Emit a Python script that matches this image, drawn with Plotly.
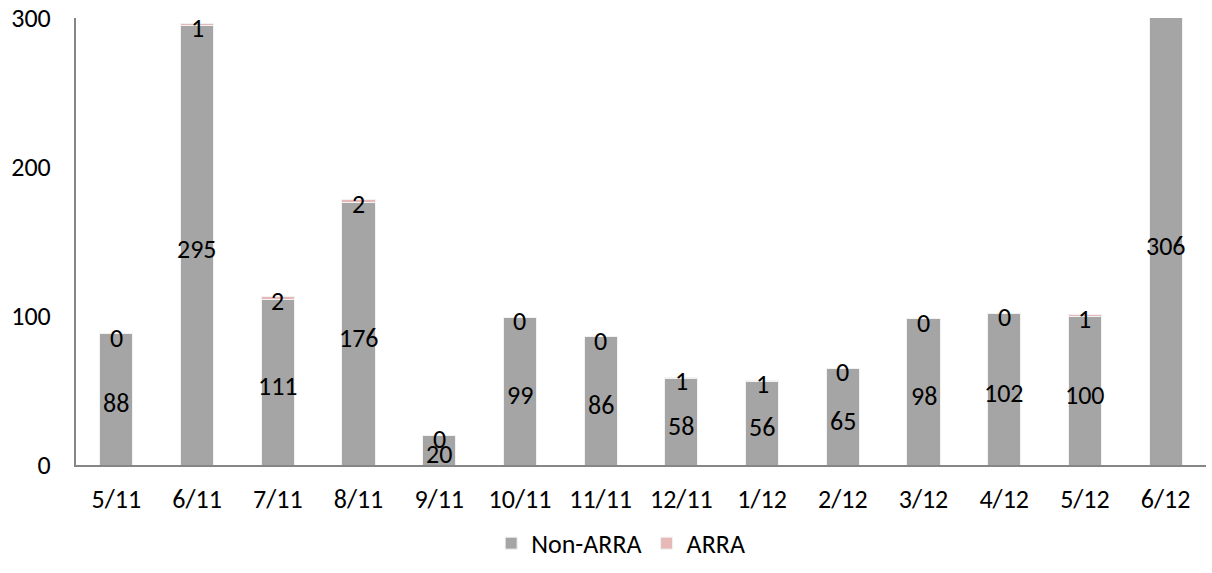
import plotly.graph_objects as go

months = ["5/11", "6/11", "7/11", "8/11", "9/11", "10/11", "11/11",
          "12/11", "1/12", "2/12", "3/12", "4/12", "5/12", "6/12"]
non_arra = [88, 295, 111, 176, 20, 99, 86, 58, 56, 65, 98, 102, 100, 306]
arra = [0, 1, 2, 2, 0, 0, 0, 1, 1, 0, 0, 0, 1, 0]
y_max = 300

font_family = "Carlito, Lato, sans-serif"
fsize = 26
label_font = dict(color="#000000", size=fsize, family=font_family)

fig = go.Figure()

fig.add_trace(go.Bar(
    x=months, y=non_arra, name="Non-ARRA",
    marker=dict(color="#A5A5A5", line=dict(color="#F2F2F2", width=1)),
    hoverinfo="x+y",
))

fig.add_trace(go.Bar(
    x=months, y=arra, name="ARRA",
    marker=dict(color="#E6B9B8", line=dict(color="#F2F2F2", width=1)),
    hoverinfo="x+y",
))

# data labels: Non-ARRA in the middle of the visible bar, ARRA at the stack top
for m, na, a in zip(months, non_arra, arra):
    fig.add_annotation(x=m, y=min(na, y_max) / 2, text=str(na),
                       showarrow=False, font=label_font, yshift=-4)
    if na + a <= y_max:  # hidden when the stack runs past the axis top
        fig.add_annotation(x=m, y=na + a, text=str(a),
                           showarrow=False, font=label_font, yshift=-4)

fig.update_layout(
    barmode="stack",
    bargap=0.59,
    width=1212, height=573,
    margin=dict(l=76, r=6, t=18, b=108, autoexpand=False),
    paper_bgcolor="white", plot_bgcolor="white",
    font=dict(family=font_family, size=fsize, color="#000000"),
    showlegend=True,
    legend=dict(orientation="h", x=0.482, xanchor="center", y=-0.175, yanchor="middle",
                font=dict(size=fsize), traceorder="normal", itemwidth=30),
)

fig.update_xaxes(
    range=[-0.5, len(months) - 0.5],
    showline=True, linecolor="#868686", linewidth=2,
    showgrid=False, ticks="", ticklabelstandoff=10,
)
fig.update_yaxes(
    range=[0, y_max], tickvals=[0, 100, 200, 300],
    showline=True, linecolor="#868686", linewidth=2,
    showgrid=False, zeroline=False, ticks="", ticklabelstandoff=18,
)

fig.write_html("out.html", config=dict(displayModeBar=False),
               post_script="document.body.style.margin='0px';")
